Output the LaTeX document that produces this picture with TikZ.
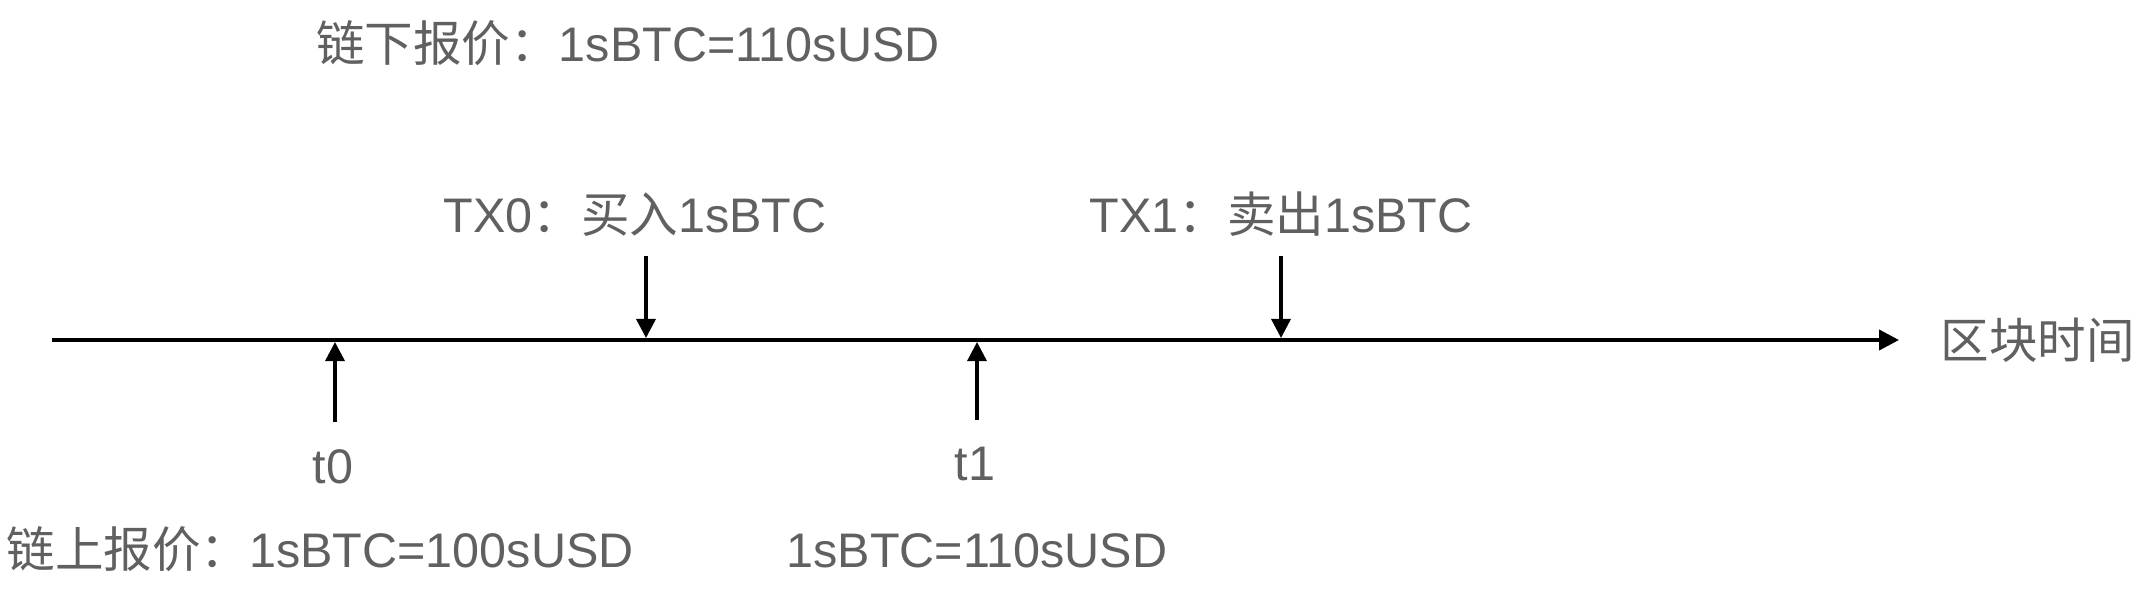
\documentclass[tikz,border=0pt]{standalone}
\usepackage{fontspec}
\setmainfont{Liberation Sans}
\newfontfamily\cjk{Noto Sans CJK SC}
\usetikzlibrary{arrows.meta}
\definecolor{txtgray}{HTML}{606060}
\begin{document}
\begin{tikzpicture}[x=0.01cm,y=-0.01cm,font=\fontsize{13.8}{16}\selectfont,
  axis/.style={line width=1.15pt,-{Triangle[length=0.2cm,width=0.2cm]}},
  tick/.style={line width=0.95pt,-{Triangle[length=0.19cm,width=0.19cm]}},
  lbl/.style={text=txtgray,inner sep=0pt,anchor=base}]
\useasboundingbox (0,0) rectangle (2152,594);

% time axis
\coordinate (start) at (52,340);
\coordinate (end) at (1899,340);
\draw [axis] (start) -- (end);
\node[lbl,anchor=west] (axislbl) at (1940,340) {\cjk 区块时间};

% off-chain price
\node[lbl] (offchain) at (628,61) {{\cjk 链下报价：}1sBTC=110sUSD};

% transactions
\node[lbl] (tx0) at (635,232) {TX0{\cjk ：买入}1sBTC};
\node[lbl] (tx1) at (1281,232) {TX1{\cjk ：卖出}1sBTC};
\coordinate (tx0top) at (646,256);
\coordinate (tx0hit) at (646,338);
\coordinate (tx1top) at (1281,256);
\coordinate (tx1hit) at (1281,338);
\draw [tick] (tx0top) -- (tx0hit);
\draw [tick] (tx1top) -- (tx1hit);

% block times
\coordinate (t0low) at (335,422);
\coordinate (t0hit) at (335,342);
\coordinate (t1low) at (977,420);
\coordinate (t1hit) at (977,342);
\draw [tick] (t0low) -- (t0hit);
\draw [tick] (t1low) -- (t1hit);
\node[lbl] (t0) at (333,483) {t0};
\node[lbl] (t1) at (975,480) {t1};

% on-chain price
\node[lbl] (onchain0) at (320,567) {{\cjk 链上报价：}1sBTC=100sUSD};
\node[lbl] (onchain1) at (977,567) {1sBTC=110sUSD};
\end{tikzpicture}
\end{document}
